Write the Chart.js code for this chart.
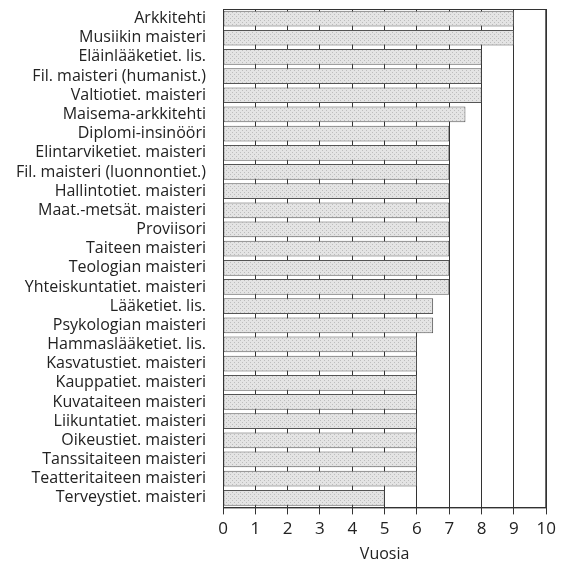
<!DOCTYPE html>
<html>
<head>
<meta charset="utf-8">
<script src="https://cdn.jsdelivr.net/npm/chart.js@4"></script>
<style>
  html, body { margin: 0; padding: 0; background: #fff; }
  #wrap { width: 561px; height: 564px; }
</style>
</head>
<body>
<div id="wrap"><canvas id="chart"></canvas></div>
<script>
// Koulutus ja tavoiteaika (vuosia)
const categories = [
    'Arkkitehti', 'Musiikin maisteri', 'Eläinlääketiet. lis.', 'Fil. maisteri (humanist.)',
    'Valtiotiet. maisteri', 'Maisema-arkkitehti', 'Diplomi-insinööri', 'Elintarviketiet. maisteri',
    'Fil. maisteri (luonnontiet.)', 'Hallintotiet. maisteri', 'Maat.-metsät. maisteri', 'Proviisori',
    'Taiteen maisteri', 'Teologian maisteri', 'Yhteiskuntatiet. maisteri', 'Lääketiet. lis.',
    'Psykologian maisteri', 'Hammaslääketiet. lis.', 'Kasvatustiet. maisteri', 'Kauppatiet. maisteri',
    'Kuvataiteen maisteri', 'Liikuntatiet. maisteri', 'Oikeustiet. maisteri', 'Tanssitaiteen maisteri',
    'Teatteritaiteen maisteri', 'Terveystiet. maisteri'
];
const years = [9, 9, 8, 8, 8, 7.5, 7, 7, 7, 7, 7, 7, 7, 7, 7, 6.5, 6.5, 6, 6, 6, 6, 6, 6, 6, 6, 5];
const xTicks = [0, 1, 2, 3, 4, 5, 6, 7, 8, 9, 10];

const fontFamily = '"Open Sans", sans-serif';

// box round the plot area (top and right edges)
const frame = {
    id: 'frame',
    afterDatasetsDraw(chart) {
        const a = chart.chartArea;
        const c = chart.ctx;
        c.save();
        c.strokeStyle = '#333';
        c.lineWidth = 1;
        c.strokeRect(a.left + 0.5, a.top + 0.5, a.right - a.left - 1, a.bottom - a.top);
        c.restore();
    }
};

document.addEventListener('DOMContentLoaded', function() {
    // dotted grey fill like the printed original
    const pc = document.createElement('canvas');
    pc.width = 4; pc.height = 4;
    const p = pc.getContext('2d');
    p.fillStyle = '#e4e4e4';
    p.fillRect(0, 0, 4, 4);
    p.fillStyle = '#bdbdbd';
    p.fillRect(0, 0, 1, 1);
    p.fillRect(2, 2, 1, 1);

    const ctx = document.getElementById('chart').getContext('2d');
    const barFill = ctx.createPattern(pc, 'repeat');

    new Chart(ctx, {
        type: 'bar',
        data: {
            labels: categories,
            datasets: [{
                data: years,
                backgroundColor: barFill,
                borderColor: '#555',
                borderWidth: 1,
                borderSkipped: false,
                categoryPercentage: 1,
                barPercentage: 0.82
            }]
        },
        plugins: [frame],
        options: {
            indexAxis: 'y',
            responsive: true,
            maintainAspectRatio: false,
            animation: false,
            layout: { padding: { top: 9, right: 14, left: 0, bottom: 0 } },
            plugins: {
                legend: { display: false },
                tooltip: { enabled: false }
            },
            scales: {
                x: {
                    min: 0,
                    max: 10,
                    afterBuildTicks: axis => { axis.ticks = xTicks.map(v => ({ value: v })); },
                    grid: { color: '#333', lineWidth: 1, tickLength: 7 },
                    border: { color: '#333' },
                    ticks: { color: '#222', font: { family: fontFamily, size: 17 }, padding: 5 },
                    title: {
                        display: true,
                        text: 'Vuosia',
                        color: '#222',
                        font: { family: fontFamily, size: 16 },
                        padding: { top: 0, bottom: 0 }
                    }
                },
                y: {
                    afterFit: axis => {
                        axis.width = 223;
                        axis.paddingTop = 0;
                        axis.paddingBottom = 0;
                    },
                    grid: { display: false },
                    border: { color: '#333' },
                    ticks: {
                        color: '#222',
                        font: { family: fontFamily, size: 16 },
                        padding: 9,
                        autoSkip: false
                    }
                }
            }
        }
    });
});
</script>
</body>
</html>
